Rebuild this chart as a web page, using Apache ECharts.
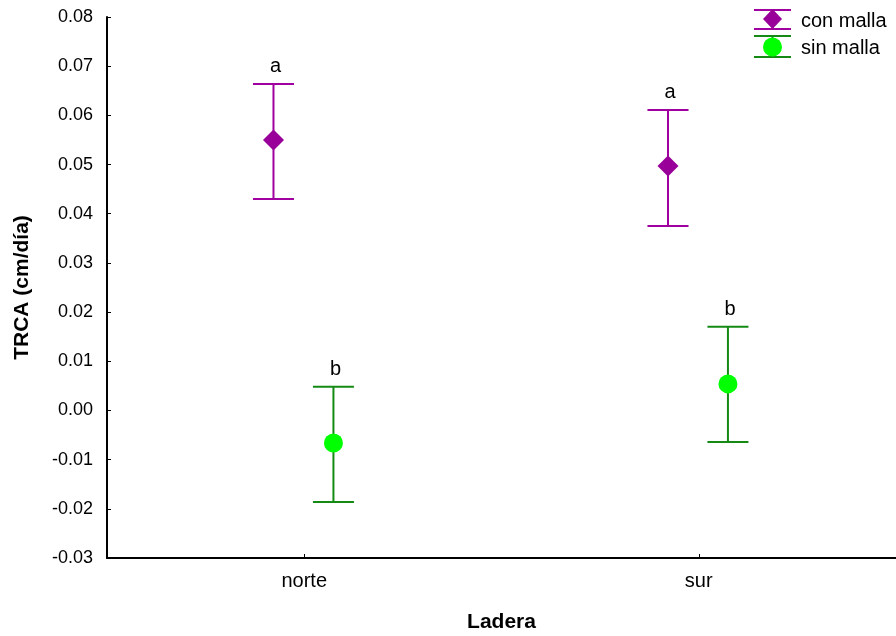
<!DOCTYPE html>
<html><head><meta charset="utf-8">
<script src="https://cdn.jsdelivr.net/npm/echarts@6/dist/echarts.min.js"></script>
<style>html,body{margin:0;padding:0;background:#fff}#c{width:896px;height:636px}</style>
</head><body><div id="c"></div>
<script>
const categories = ['norte', 'sur'];
const seriesNames = ['con malla', 'sin malla'];
const conMean = [0.0550, 0.0497];
const conLow = [0.0430, 0.0375];
const conHigh = [0.0664, 0.0611];
const sinMean = [-0.0066, 0.0054];
const sinLow = [-0.0186, -0.0064];
const sinHigh = [0.0048, 0.0170];
const conLetters = ['a', 'a'];
const sinLetters = ['b', 'b'];
const yTicks = [-0.03, -0.02, -0.01, 0.00, 0.01, 0.02, 0.03, 0.04, 0.05, 0.06, 0.07, 0.08];

const FONT = 'Liberation Sans, Arial, sans-serif';
const styles = [
  {line: '#a000a0', fill: '#990099', symbol: 'diamond', shift: -0.078},
  {line: '#148a14', fill: '#00ff00', symbol: 'circle', shift: 0.074}
];

function makeData(mean, low, high, letters) {
  return categories.map((c, i) => [i, mean[i], low[i], high[i], letters[i]]);
}

function renderItem(s) {
  return function (params, api) {
    const ci = api.value(0);
    const band = api.size([1, 0])[0];
    const dx = band * s.shift;
    const pm = api.coord([ci, api.value(1)]);
    const pl = api.coord([ci, api.value(2)]);
    const ph = api.coord([ci, api.value(3)]);
    const x = pm[0] + dx;
    const hw = 20.5;
    const ls = {stroke: s.line, lineWidth: 2};
    const children = [
      {type: 'line', shape: {x1: x, y1: ph[1], x2: x, y2: pl[1]}, style: ls},
      {type: 'line', shape: {x1: x - hw, y1: ph[1], x2: x + hw, y2: ph[1]}, style: ls},
      {type: 'line', shape: {x1: x - hw, y1: pl[1], x2: x + hw, y2: pl[1]}, style: ls},
      {type: 'text', style: {text: api.value(4), x: x + 2, y: ph[1] - 17, fill: '#000', font: '20px ' + FONT, align: 'center', verticalAlign: 'middle'}}
    ];
    if (s.symbol === 'diamond') {
      children.push({type: 'polygon', shape: {points: [[x, pm[1] - 10.5], [x + 10.5, pm[1]], [x, pm[1] + 10.5], [x - 10.5, pm[1]]]}, style: {fill: s.fill}});
    } else {
      children.push({type: 'circle', shape: {cx: x, cy: pm[1], r: 9.5}, style: {fill: s.fill}});
    }
    return {type: 'group', children: children};
  };
}

const chart = echarts.init(document.getElementById('c'), null, {renderer: 'canvas'});
chart.setOption({
  animation: false,
  backgroundColor: '#fff',
  grid: {left: 107, right: 0, top: 17, bottom: 78, containLabel: false, outerBoundsMode: 'none'},
  xAxis: {
    type: 'category', data: categories, boundaryGap: true,
    name: 'Ladera', nameLocation: 'middle', nameGap: 54,
    nameTextStyle: {fontFamily: FONT, fontSize: 21, fontWeight: 'bold', color: '#000'},
    axisLine: {onZero: false, lineStyle: {color: '#000', width: 2}},
    axisTick: {show: true, inside: true, length: 4, alignWithLabel: true, lineStyle: {color: '#000'}},
    axisLabel: {fontFamily: FONT, fontSize: 20, color: '#000', margin: 13},
    splitLine: {show: false}
  },
  yAxis: {
    type: 'value', min: yTicks[0], max: yTicks[yTicks.length - 1], interval: 0.01,
    name: 'TRCA (cm/día)', nameLocation: 'middle', nameGap: 74, nameRotate: 90,
    nameTextStyle: {fontFamily: FONT, fontSize: 21, fontWeight: 'bold', color: '#000'},
    axisLine: {show: true, onZero: false, lineStyle: {color: '#000', width: 2}},
    axisTick: {show: true, inside: true, length: 4, lineStyle: {color: '#000'}},
    axisLabel: {fontFamily: FONT, fontSize: 18, color: '#000', margin: 14,
      formatter: v => v.toFixed(2)},
    splitLine: {show: false}
  },
  series: [
    {type: 'custom', name: seriesNames[0], renderItem: renderItem(styles[0]), data: makeData(conMean, conLow, conHigh, conLetters), encode: {x: 0, y: [1, 2, 3]}, z: 3},
    {type: 'custom', name: seriesNames[1], renderItem: renderItem(styles[1]), data: makeData(sinMean, sinLow, sinHigh, sinLetters), encode: {x: 0, y: [1, 2, 3]}, z: 3}
  ],
  graphic: [
    {type: 'line', shape: {x1: 754, y1: 10, x2: 791, y2: 10}, style: {stroke: styles[0].line, lineWidth: 2}},
    {type: 'line', shape: {x1: 754, y1: 29, x2: 791, y2: 29}, style: {stroke: styles[0].line, lineWidth: 2}},
    {type: 'line', shape: {x1: 772.5, y1: 10, x2: 772.5, y2: 29}, style: {stroke: styles[0].line, lineWidth: 2}},
    {type: 'polygon', shape: {points: [[772.5, 9], [782, 19], [772.5, 29], [763, 19]]}, style: {fill: styles[0].fill}},
    {type: 'text', style: {text: seriesNames[0], x: 801, y: 21, font: '20px ' + FONT, fill: '#000', verticalAlign: 'middle'}},
    {type: 'line', shape: {x1: 754, y1: 36, x2: 791, y2: 36}, style: {stroke: styles[1].line, lineWidth: 2}},
    {type: 'line', shape: {x1: 754, y1: 57, x2: 791, y2: 57}, style: {stroke: styles[1].line, lineWidth: 2}},
    {type: 'line', shape: {x1: 772.5, y1: 36, x2: 772.5, y2: 57}, style: {stroke: styles[1].line, lineWidth: 2}},
    {type: 'circle', shape: {cx: 772.5, cy: 47, r: 9.5}, style: {fill: styles[1].fill}},
    {type: 'text', style: {text: seriesNames[1], x: 801, y: 48, font: '20px ' + FONT, fill: '#000', verticalAlign: 'middle'}}
  ]
});
</script></body></html>
